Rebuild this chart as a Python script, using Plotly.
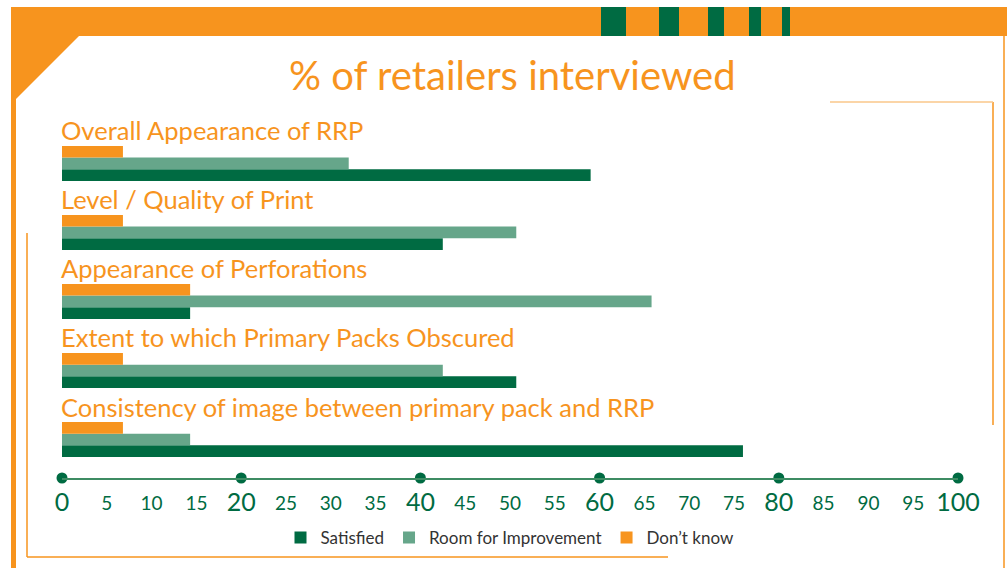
import plotly.graph_objects as go

categories = [
    "Overall Appearance of RRP",
    "Level / Quality of Print",
    "Appearance of Perforations",
    "Extent to which Primary Packs Obscured",
    "Consistency of image between primary pack and RRP",
]
satisfied = [59, 42.5, 14.3, 50.7, 76]
room_for_improvement = [32, 50.7, 65.8, 42.5, 14.3]
dont_know = [6.8, 6.8, 14.3, 6.8, 6.8]
series_names = ["Satisfied", "Room for Improvement", "Don\u2019t know"]
major_ticks = [0, 20, 40, 60, 80, 100]
minor_ticks = [5, 10, 15, 25, 30, 35, 45, 50, 55, 65, 70, 75, 85, 90, 95]
title_text = "% of retailers interviewed"

GREEN = "#006B42"
LIGHT_GREEN = "#66A68A"
ORANGE = "#F7941E"
FONT = "Lato"

W, H = 1007, 568
ML, MR, MT, MB = 62, 49, 110, 90
PW, PH = W - ML - MR, H - MT - MB


def px(x):
    return (x - ML) / PW


def py(y):
    return (H - MB - y) / PH


fig = go.Figure()
for name, vals, col in zip(series_names, [satisfied, room_for_improvement, dont_know],
                           [GREEN, LIGHT_GREEN, ORANGE]):
    fig.add_trace(go.Bar(y=categories, x=vals, name=name, orientation="h",
                         marker=dict(color=col, line=dict(width=0))))

# dots on the axis line at major ticks
fig.add_trace(go.Scatter(x=major_ticks, y=[0] * len(major_ticks), yaxis="y2", xaxis="x",
                         mode="markers", marker=dict(size=11, color=GREEN),
                         cliponaxis=False, showlegend=False, hoverinfo="skip"))
# invisible trace to activate minor tick axis
fig.add_trace(go.Scatter(x=[0], y=[0], xaxis="x2", yaxis="y2", mode="markers",
                         marker=dict(opacity=0), showlegend=False, hoverinfo="skip"))

# category labels
for c in categories:
    fig.add_annotation(x=0, y=c, xref="x", yref="y", text=c, showarrow=False,
                       xanchor="left", yanchor="middle", yshift=33, xshift=-3,
                       font=dict(family=FONT, size=25.5, color=ORANGE))

# title
fig.add_annotation(x=px(512), y=py(75), xref="paper", yref="paper", text=title_text,
                   showarrow=False, xanchor="center", yanchor="middle",
                   font=dict(family=FONT, size=40, color=ORANGE))

# decorative frame
shapes = []
shapes.append(dict(type="path", xref="paper", yref="paper",
                   path=f"M {px(11)} {py(7)} L {px(1007)} {py(7)} L {px(1007)} {py(36)} "
                        f"L {px(79)} {py(36)} L {px(16)} {py(99)} L {px(16)} {py(568)} "
                        f"L {px(11)} {py(568)} Z",
                   fillcolor=ORANGE, line=dict(width=0), layer="below"))
for x0, x1 in [(601, 626), (659, 679), (708, 724), (749, 761), (782, 790)]:
    shapes.append(dict(type="rect", xref="paper", yref="paper",
                       x0=px(x0), x1=px(x1), y0=py(36), y1=py(7),
                       fillcolor=GREEN, line=dict(width=0), layer="below"))
thin = dict(color=ORANGE, width=1.5)
shapes.append(dict(type="line", xref="paper", yref="paper", x0=px(1004), x1=px(1004),
                   y0=py(36), y1=py(568), line=thin))
shapes.append(dict(type="line", xref="paper", yref="paper", x0=px(27), x1=px(27),
                   y0=py(233), y1=py(557), line=thin))
shapes.append(dict(type="line", xref="paper", yref="paper", x0=px(27), x1=px(668),
                   y0=py(557), y1=py(557), line=thin))
shapes.append(dict(type="line", xref="paper", yref="paper", x0=px(993), x1=px(993),
                   y0=py(102), y1=py(425), line=thin))
shapes.append(dict(type="line", xref="paper", yref="paper", x0=px(830), x1=px(993),
                   y0=py(102), y1=py(102), line=dict(color="#FAC78A", width=1.5)))

fig.update_layout(
    width=W, height=H, margin=dict(l=ML, r=MR, t=MT, b=MB, pad=0, autoexpand=False),
    paper_bgcolor="white", plot_bgcolor="white",
    barmode="group", bargap=0.49, bargroupgap=0,
    shapes=shapes,
    xaxis=dict(range=[0, 100], tickvals=major_ticks, showgrid=False, zeroline=False,
               showline=True, linecolor="#3D8C63", linewidth=2, ticks="",
               ticklabelstandoff=1, automargin=False,
               tickfont=dict(family=FONT, size=25, color=GREEN)),
    xaxis2=dict(range=[0, 100], tickvals=minor_ticks, overlaying="x", side="bottom",
                showgrid=False, zeroline=False, showline=False, ticks="",
                ticklabelstandoff=12, automargin=False,
                tickfont=dict(family=FONT, size=19, color=GREEN)),
    yaxis=dict(categoryorder="array", categoryarray=categories[::-1],
               range=[-0.558, 4.775], showticklabels=False, showgrid=False,
               zeroline=False, showline=False, automargin=False),
    yaxis2=dict(range=[0, 1], overlaying="y", visible=False),
    legend=dict(orientation="h", x=0.5, xanchor="center", y=py(538), yanchor="middle",
                font=dict(family=FONT, size=17, color="#333333"), traceorder="normal",
                itemwidth=30),
    showlegend=True,
)

fig.write_html("out.html", config={"displayModeBar": False},
               post_script="document.body.style.margin='0px';")
